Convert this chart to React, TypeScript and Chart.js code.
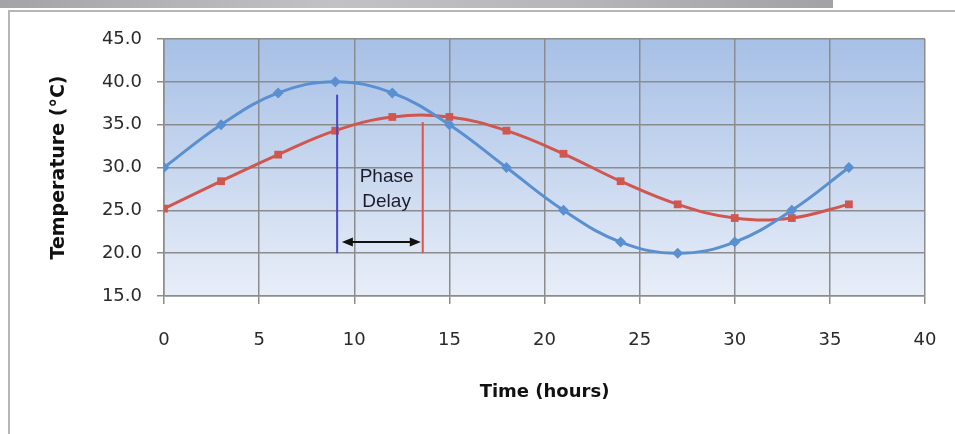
import React, { useEffect, useRef } from "react";
import { Chart, registerables } from "chart.js";

Chart.register(...registerables);

// ---- data ----
const hours = [0, 3, 6, 9, 12, 15, 18, 21, 24, 27, 30, 33, 36];
const surfaceTemp = [30.0, 35.0, 38.7, 40.0, 38.7, 35.0, 30.0, 25.0, 21.3, 20.0, 21.3, 25.0, 30.0];
const innerTemp = [25.2, 28.4, 31.5, 34.3, 35.9, 35.9, 34.3, 31.6, 28.4, 25.7, 24.1, 24.1, 25.7];

const xMin = 0;
const xMax = 40;
const xStep = 5;
const yMin = 15;
const yMax = 45;
const yStep = 5;

const xTitle = "Time (hours)";
const yTitle = "Temperature (°C)";

// phase delay annotation (data coordinates)
const peakLineX = [9.1, 20.0, 38.5]; // x, bottom, top
const lagLineX = [13.6, 20.0, 35.3]; // x, bottom, top
const arrowSpan = [9.35, 13.5, 21.3]; // from, to, y
const noteLines = ["Phase", "Delay"];
const noteX = 11.7;
const noteYs = [28.9, 26.0];

const BLUE = "#5a8fd0";
const RED = "#d0574f";

const bgPlugin = {
  id: "plotBg",
  beforeDraw(chart: any) {
    const { ctx, chartArea } = chart;
    if (!chartArea) return;
    const g = ctx.createLinearGradient(0, chartArea.top, 0, chartArea.bottom);
    g.addColorStop(0, "#a7c0e6");
    g.addColorStop(1, "#e8eef8");
    ctx.save();
    ctx.fillStyle = g;
    ctx.fillRect(chartArea.left, chartArea.top, chartArea.right - chartArea.left, chartArea.bottom - chartArea.top);
    ctx.restore();
  },
};

const notePlugin = {
  id: "phaseNote",
  afterDatasetsDraw(chart: any) {
    const { ctx } = chart;
    const xs = chart.scales.x;
    const ys = chart.scales.y;
    ctx.save();
    ctx.lineWidth = 2;
    // blue vertical
    ctx.strokeStyle = "#4646c8";
    ctx.beginPath();
    ctx.moveTo(xs.getPixelForValue(peakLineX[0]), ys.getPixelForValue(peakLineX[1]));
    ctx.lineTo(xs.getPixelForValue(peakLineX[0]), ys.getPixelForValue(peakLineX[2]));
    ctx.stroke();
    // red vertical
    ctx.strokeStyle = "#e0524c";
    ctx.beginPath();
    ctx.moveTo(xs.getPixelForValue(lagLineX[0]), ys.getPixelForValue(lagLineX[1]));
    ctx.lineTo(xs.getPixelForValue(lagLineX[0]), ys.getPixelForValue(lagLineX[2]));
    ctx.stroke();
    // double arrow
    const ax1 = xs.getPixelForValue(arrowSpan[0]);
    const ax2 = xs.getPixelForValue(arrowSpan[1]);
    const ay = ys.getPixelForValue(arrowSpan[2]);
    ctx.strokeStyle = "#111";
    ctx.fillStyle = "#111";
    ctx.lineWidth = 2;
    ctx.beginPath();
    ctx.moveTo(ax1 + 6, ay);
    ctx.lineTo(ax2 - 6, ay);
    ctx.stroke();
    const head = 11;
    const hw = 4.5;
    ctx.beginPath();
    ctx.moveTo(ax1, ay);
    ctx.lineTo(ax1 + head, ay - hw);
    ctx.lineTo(ax1 + head, ay + hw);
    ctx.closePath();
    ctx.fill();
    ctx.beginPath();
    ctx.moveTo(ax2, ay);
    ctx.lineTo(ax2 - head, ay - hw);
    ctx.lineTo(ax2 - head, ay + hw);
    ctx.closePath();
    ctx.fill();
    // text
    ctx.fillStyle = "#1c1c2a";
    ctx.font = '19px "Liberation Sans", Arial, sans-serif';
    ctx.textAlign = "center";
    ctx.textBaseline = "middle";
    noteLines.forEach((t, i) => {
      ctx.fillText(t, xs.getPixelForValue(noteX), ys.getPixelForValue(noteYs[i]));
    });
    ctx.restore();
  },
};

export default function App() {
  const canvasRef = useRef<HTMLCanvasElement | null>(null);

  useEffect(() => {
    const canvas = canvasRef.current;
    if (!canvas) return;
    const gridColor = "#8c8c8c";
    const chart = new Chart(canvas, {
      type: "line",
      data: {
        datasets: [
          {
            label: "Surface",
            data: hours.map((h, i) => ({ x: h, y: surfaceTemp[i] })),
            borderColor: BLUE,
            backgroundColor: BLUE,
            borderWidth: 3,
            tension: 0.4,
            pointStyle: "rectRot",
            pointRadius: 5.5,
            pointBorderWidth: 0,
            fill: false,
          },
          {
            label: "Interior",
            data: hours.map((h, i) => ({ x: h, y: innerTemp[i] })),
            borderColor: RED,
            backgroundColor: RED,
            borderWidth: 3,
            tension: 0.4,
            pointStyle: "rect",
            pointRadius: 5.5,
            pointBorderWidth: 0,
            fill: false,
          },
        ],
      },
      options: {
        animation: false,
        responsive: false,
        maintainAspectRatio: false,
        layout: { padding: { top: 39, right: 30, bottom: 0, left: 0 } },
        plugins: {
          legend: { display: false },
          tooltip: { enabled: false },
        },
        scales: {
          x: {
            type: "linear",
            min: xMin,
            max: xMax,
            bounds: "ticks",
            ticks: {
              stepSize: xStep,
              padding: 26,
              color: "#2a2a2a",
              font: { family: '"DejaVu Sans", sans-serif', size: 18 },
              maxRotation: 0,
            },
            grid: { color: gridColor, lineWidth: 1.5, tickLength: 8, tickColor: gridColor },
            border: { display: true, color: gridColor, width: 1.5 },
            title: {
              display: true,
              text: xTitle,
              color: "#111",
              font: { family: '"DejaVu Sans", sans-serif', size: 18, weight: "bold" },
              padding: { top: 0, bottom: 31 },
            },
            afterFit(scale: any) {
              scale.height = 138;
              scale.paddingLeft = 0;
              scale.paddingRight = 12;
            },
          },
          y: {
            type: "linear",
            min: yMin,
            max: yMax,
            ticks: {
              stepSize: yStep,
              padding: 15,
              color: "#2a2a2a",
              font: { family: '"DejaVu Sans", sans-serif', size: 18 },
              callback: (v: any) => Number(v).toFixed(1),
            },
            grid: { color: gridColor, lineWidth: 1.5, tickLength: 7, tickColor: gridColor },
            border: { display: true, color: gridColor, width: 1.5 },
            title: {
              display: true,
              text: yTitle,
              color: "#111",
              font: { family: '"DejaVu Sans", sans-serif', size: 19, weight: "bold" },
              padding: { top: 48, bottom: 0 },
            },
            afterFit(scale: any) {
              scale.width = 164;
              scale.paddingTop = 0;
              scale.paddingBottom = 0;
            },
          },
        },
      },
      plugins: [bgPlugin, notePlugin],
    } as any);
    return () => chart.destroy();
  }, []);

  return (
    <div
      style={{
        position: "absolute",
        left: 0,
        top: 0,
        width: 955,
        height: 434,
        background: "#ffffff",
        overflow: "hidden",
      }}
    >
      <div
        style={{
          position: "absolute",
          left: 0,
          top: 0,
          width: 833,
          height: 8,
          background: "linear-gradient(to right, #a4a4a8, #c2c2c4 40%, #b6b6b9 70%, #a2a2a6)",
        }}
      />
      <div
        style={{
          position: "absolute",
          left: 8,
          top: 10,
          width: 960,
          height: 440,
          borderTop: "2px solid #b6b6b6",
          borderLeft: "2px solid #b6b6b6",
        }}
      />
      <canvas
        ref={canvasRef}
        width={955}
        height={434}
        style={{ position: "absolute", left: 0, top: 0, width: 955, height: 434 }}
      />
    </div>
  );
}
